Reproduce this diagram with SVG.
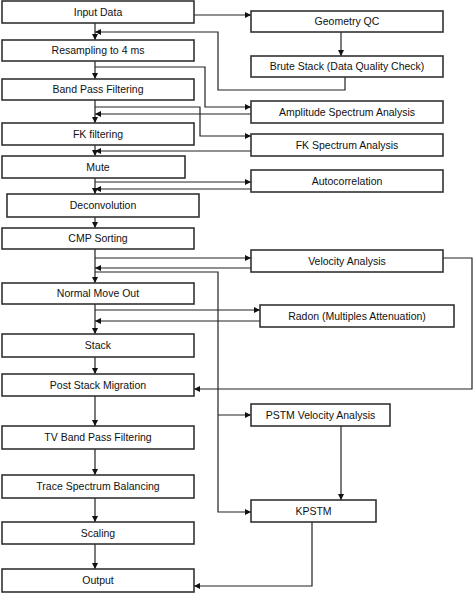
<svg xmlns="http://www.w3.org/2000/svg" width="474" height="593" viewBox="0 0 474 593">
<style>
.box{fill:#fff;stroke:#333;stroke-width:1.6}
.t{font-family:"Liberation Sans",Arial,sans-serif;font-size:10.5px;fill:#111;text-anchor:middle}
.c{fill:none;stroke:#222;stroke-width:1.2}
</style>
<defs>
<marker id="a" markerUnits="userSpaceOnUse" markerWidth="7" markerHeight="7" refX="6" refY="3" orient="auto">
<path d="M0,0 L6,3 L0,6 z" fill="#111"/>
</marker>
</defs>
<rect width="474" height="593" fill="#fff"/>
<g id="connectors">
<line class="c" x1="95" y1="23" x2="95" y2="40" marker-end="url(#a)"/>
<line class="c" x1="95" y1="61" x2="95" y2="79" marker-end="url(#a)"/>
<line class="c" x1="95" y1="100" x2="95" y2="123" marker-end="url(#a)"/>
<line class="c" x1="95" y1="145" x2="95" y2="156" marker-end="url(#a)"/>
<line class="c" x1="95" y1="178" x2="95" y2="194" marker-end="url(#a)"/>
<line class="c" x1="95" y1="217" x2="95" y2="228" marker-end="url(#a)"/>
<line class="c" x1="95" y1="249" x2="95" y2="283" marker-end="url(#a)"/>
<line class="c" x1="95" y1="304" x2="95" y2="334" marker-end="url(#a)"/>
<line class="c" x1="95" y1="357" x2="95" y2="374" marker-end="url(#a)"/>
<line class="c" x1="95" y1="396" x2="95" y2="426" marker-end="url(#a)"/>
<line class="c" x1="95" y1="449" x2="95" y2="475" marker-end="url(#a)"/>
<line class="c" x1="95" y1="498" x2="95" y2="522" marker-end="url(#a)"/>
<line class="c" x1="95" y1="544" x2="95" y2="569" marker-end="url(#a)"/>
<line class="c" x1="194" y1="15" x2="251" y2="15" marker-end="url(#a)"/>
<line class="c" x1="341" y1="32" x2="341" y2="56" marker-end="url(#a)"/>
<polyline class="c" points="345,77 345,90 218,90 218,32 95,32" marker-end="url(#a)"/>
<polyline class="c" points="95,67 205,67 205,107 251,107" marker-end="url(#a)"/>
<polyline class="c" points="95,107 200,107 200,136 251,136" marker-end="url(#a)"/>
<line class="c" x1="251" y1="114" x2="95" y2="114" marker-end="url(#a)"/>
<line class="c" x1="251" y1="151" x2="95" y2="151" marker-end="url(#a)"/>
<line class="c" x1="95" y1="182" x2="251" y2="182" marker-end="url(#a)"/>
<line class="c" x1="251" y1="189" x2="95" y2="189" marker-end="url(#a)"/>
<line class="c" x1="95" y1="258" x2="251" y2="258" marker-end="url(#a)"/>
<line class="c" x1="251" y1="268" x2="95" y2="268" marker-end="url(#a)"/>
<polyline class="c" points="95,272 218,272 218,512 251,512" marker-end="url(#a)"/>
<line class="c" x1="218" y1="415" x2="251" y2="415" marker-end="url(#a)"/>
<polyline class="c" points="443,258 472,258 472,389 194,389" marker-end="url(#a)"/>
<line class="c" x1="95" y1="310" x2="260" y2="310" marker-end="url(#a)"/>
<line class="c" x1="260" y1="321" x2="95" y2="321" marker-end="url(#a)"/>
<line class="c" x1="341" y1="426" x2="341" y2="500" marker-end="url(#a)"/>
<polyline class="c" points="312,522 312,586 194,586" marker-end="url(#a)"/>
</g>
<g id="input-data"><rect class="box" x="2" y="1" width="192" height="22"/><text class="t" x="98" y="15.5">Input Data</text></g>
<g id="geometry-qc"><rect class="box" x="251" y="11" width="192" height="21"/><text class="t" x="347" y="25">Geometry QC</text></g>
<g id="resampling"><rect class="box" x="2" y="40" width="192" height="21"/><text class="t" x="98" y="54">Resampling to 4 ms</text></g>
<g id="brute-stack"><rect class="box" x="251" y="56" width="192" height="21"/><text class="t" x="347" y="70">Brute Stack (Data Quality Check)</text></g>
<g id="band-pass"><rect class="box" x="2" y="79" width="192" height="21"/><text class="t" x="98" y="93">Band Pass Filtering</text></g>
<g id="amplitude-spectrum"><rect class="box" x="251" y="101" width="192" height="22"/><text class="t" x="347" y="115.5">Amplitude Spectrum Analysis</text></g>
<g id="fk-filtering"><rect class="box" x="2" y="123" width="192" height="22"/><text class="t" x="98" y="137.5">FK filtering</text></g>
<g id="fk-spectrum"><rect class="box" x="251" y="134" width="192" height="22"/><text class="t" x="347" y="148.5">FK Spectrum Analysis</text></g>
<g id="mute"><rect class="box" x="2" y="156" width="183" height="22"/><text class="t" x="98" y="170.5">Mute</text></g>
<g id="autocorrelation"><rect class="box" x="251" y="170" width="192" height="22"/><text class="t" x="347" y="184.5">Autocorrelation</text></g>
<g id="deconvolution"><rect class="box" x="7" y="194" width="192" height="23"/><text class="t" x="103" y="209">Deconvolution</text></g>
<g id="cmp-sorting"><rect class="box" x="2" y="228" width="192" height="21"/><text class="t" x="98" y="242">CMP Sorting</text></g>
<g id="velocity-analysis"><rect class="box" x="251" y="250" width="192" height="22"/><text class="t" x="347" y="264.5">Velocity Analysis</text></g>
<g id="nmo"><rect class="box" x="2" y="283" width="192" height="21"/><text class="t" x="98" y="297">Normal Move Out</text></g>
<g id="radon"><rect class="box" x="260" y="305" width="194" height="22"/><text class="t" x="357" y="319.5">Radon (Multiples Attenuation)</text></g>
<g id="stack"><rect class="box" x="2" y="334" width="192" height="23"/><text class="t" x="98" y="349">Stack</text></g>
<g id="post-stack-migration"><rect class="box" x="2" y="374" width="192" height="22"/><text class="t" x="98" y="388.5">Post Stack Migration</text></g>
<g id="pstm-velocity"><rect class="box" x="251" y="404" width="139" height="22"/><text class="t" x="320.5" y="418.5">PSTM Velocity Analysis</text></g>
<g id="tv-band-pass"><rect class="box" x="2" y="426" width="192" height="23"/><text class="t" x="98" y="441">TV Band Pass Filtering</text></g>
<g id="trace-spectrum"><rect class="box" x="2" y="475" width="192" height="23"/><text class="t" x="98" y="490">Trace Spectrum Balancing</text></g>
<g id="kpstm"><rect class="box" x="251" y="500" width="125" height="22"/><text class="t" x="313.5" y="514.5">KPSTM</text></g>
<g id="scaling"><rect class="box" x="2" y="522" width="192" height="22"/><text class="t" x="98" y="536.5">Scaling</text></g>
<g id="output"><rect class="box" x="2" y="569" width="192" height="23"/><text class="t" x="98" y="584">Output</text></g>
</svg>
